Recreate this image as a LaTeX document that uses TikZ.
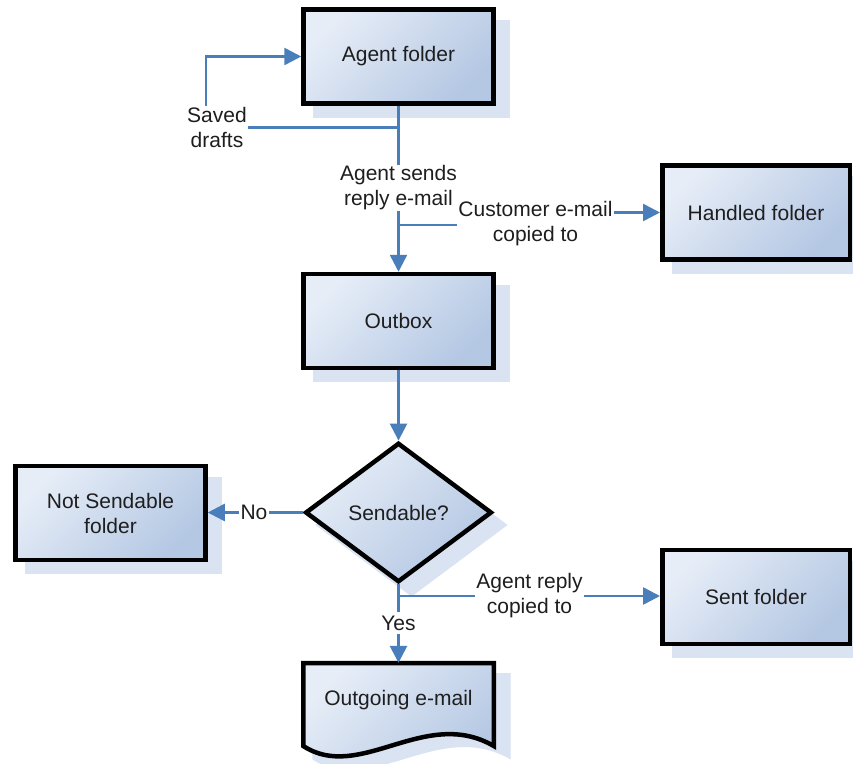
\documentclass[tikz,border=0pt]{standalone}
\usepackage{fontspec}
\setmainfont{Liberation Sans}
\usetikzlibrary{arrows.meta,shapes.geometric,shadows}
\definecolor{lineblue}{HTML}{4A7EBB}
\definecolor{gtop}{HTML}{E6EDF7}
\definecolor{gbot}{HTML}{B4C7E3}
\definecolor{shadowc}{HTML}{D9E3F1}
\definecolor{txt}{HTML}{1E1E1E}
\begin{document}
\begin{tikzpicture}[x=1pt,y=-1pt,
  font=\fontsize{21}{25}\selectfont,
  boxshade/.style={top color=gtop, bottom color=gbot, shading angle=45},
  sh/.style={drop shadow={shadow xshift=12.5pt, shadow yshift=-12pt, shadow scale=1.04, fill=shadowc, opacity=1}},
  folder/.style={draw=black, line width=4.5pt, boxshade, sh, minimum width=190pt, minimum height=94pt, inner sep=2pt, align=center, text=txt},
  decision/.style={diamond, draw=black, line width=4.5pt, boxshade, sh, minimum width=186.6pt, minimum height=139.4pt, inner sep=0pt, text=txt},
  lbl/.style={inner sep=1pt, align=center, text=txt},
  conn/.style={draw=lineblue, line width=2.6pt},
  arr/.style={conn, -{Triangle[length=17pt, width=17pt]}},
]
\useasboundingbox (0,0) rectangle (853,763);
\fill[white] (0,0) rectangle (853,763);

% boxes
\node[folder] (agent) at (398.5,56.5) {Agent folder};
\node[folder] (outbox) at (398.5,321) {Outbox};
\node[folder, minimum width=187.5pt] (handled) at (756,212.5) {Handled folder};
\node[folder] (notsend) at (110.5,513) {Not Sendable\\folder};
\node[decision] (dec) at (398.5,512.5) {Sendable?};
\node[folder, minimum width=187.5pt] (sent) at (756,597) {Sent folder};

% document shape
\path[draw=black, line width=4.5pt, boxshade, sh] (303.25,663) -- (493.75,663) -- (493.75,746)
  .. controls (425,706) and (360,783) .. (303.25,746) -- cycle;
\node[text=txt, minimum width=190.5pt, minimum height=74pt, inner sep=0pt] (out) at (398.5,700) {Outgoing e-mail};

% labels
\node[lbl] (saved) at (217,127.5) {Saved\\drafts};
\node[lbl] (asends) at (398.5,188) {Agent sends\\reply e-mail};
\node[lbl] (cust) at (535.5,224) {Customer e-mail\\copied to};
\node[lbl] (no) at (254,512.5) {No};
\node[lbl, inner sep=3pt] (yes) at (398.5,623) {Yes};
\node[lbl] (areply) at (529.5,596) {Agent reply\\copied to};

\coordinate (j1) at (asends.north |- saved.east);
\coordinate (j2) at (398.5,225);
\coordinate (j3) at (398.5,596);

% connectors
\draw[conn] (agent.south) -- (asends.north);
\draw[conn] (saved.east) -- (j1);
\draw[arr] ([xshift=-11pt]saved.north) |- (agent.west);
\draw[arr] (asends.south) -- (outbox.north);
\draw[conn] (j2) -- (j2 -| cust.west);
\draw[arr] (cust.east |- handled.west) -- (handled.west);
\draw[arr] (outbox.south) -- (dec.north);
\draw[conn] (dec.west) -- (no.east);
\draw[arr] (no.west) -- (no.west -| notsend.east);
\draw[conn] (dec.south) -- (yes.north);
\draw[arr] (yes.south) -- (out.north);
\draw[conn] (j3) -- (areply.west);
\draw[arr] (areply.east) -- (areply.east -| sent.west);
\end{tikzpicture}
\end{document}
